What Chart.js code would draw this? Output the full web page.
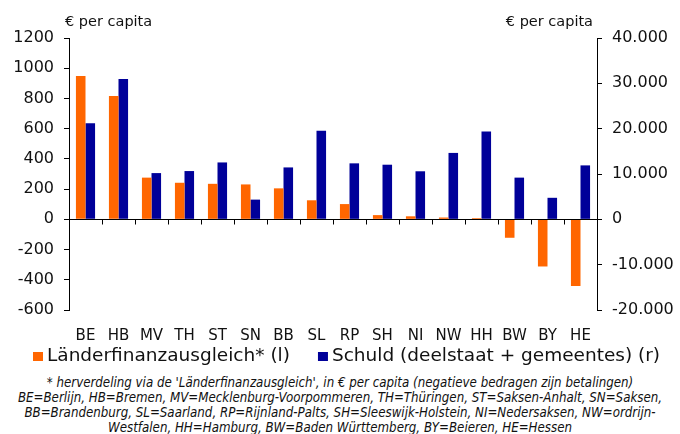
<!DOCTYPE html>
<html>
<head>
<meta charset="utf-8">
<script src="https://cdn.jsdelivr.net/npm/chart.js@4/dist/chart.umd.min.js"></script>
<style>
  body { margin: 0; background: #fff; }
  #wrap { position: relative; width: 680px; height: 372px; }
  #note {
    position: absolute; left: 0; top: 375px; width: 680px;
    text-align: center; font-family: "DejaVu Sans Condensed", "DejaVu Sans", sans-serif;
    font-style: italic; font-size: 13.2px; line-height: 15px; color: #111;
  }
</style>
</head>
<body>
<div id="wrap"><canvas id="chart"></canvas></div>
<div id="note">
  * herverdeling via de 'Länderfinanzausgleich', in € per capita (negatieve bedragen zijn betalingen)<br>
  BE=Berlijn, HB=Bremen, MV=Mecklenburg-Voorpommeren, TH=Thüringen, ST=Saksen-Anhalt, SN=Saksen,<br>
  BB=Brandenburg, SL=Saarland, RP=Rijnland-Palts, SH=Sleeswijk-Holstein, NI=Nedersaksen, NW=ordrijn-<br>
  Westfalen, HH=Hamburg, BW=Baden Württemberg, BY=Beieren, HE=Hessen
</div>
<script>
const states = ['BE', 'HB', 'MV', 'TH', 'ST', 'SN', 'BB', 'SL', 'RP', 'SH', 'NI', 'NW', 'HH', 'BW', 'BY', 'HE'];
// Länderfinanzausgleich, € per capita (left axis)
const lfa = [948, 817, 276, 242, 235, 231, 205, 126, 101, 28, 20, 12, 8, -122, -312, -441];
// debt state + municipalities, € per capita (right axis)
const debt = [21200, 30950, 10200, 10650, 12550, 4350, 11450, 19550, 12350, 12050, 10600, 14650, 19400, 9200, 4750, 11900];

const leftTicks = { min: -600, max: 1200, step: 200 };
const rightTicks = { min: -20000, max: 40000, step: 10000 };

const fmtThousands = v => String(v).replace(/\B(?=(\d{3})+(?!\d))/g, '.');

const FONT = '"DejaVu Sans", Verdana, sans-serif';

// axis captions, zero line, category tick marks and the legend
const extras = {
  id: 'extras',
  afterDraw(chart) {
    const ctx = chart.ctx;
    const area = chart.chartArea;
    const x = chart.scales.x;
    const y = chart.scales.y;
    ctx.save();
    ctx.fillStyle = '#111';
    ctx.font = '14.5px ' + FONT;
    ctx.textBaseline = 'alphabetic';
    ctx.textAlign = 'left';
    ctx.fillText('€ per capita', area.left - 4, 25.5);
    ctx.textAlign = 'right';
    ctx.fillText('€ per capita', area.right - 4, 25.5);

    const y0 = Math.round(y.getPixelForValue(0)) + 0.5;
    ctx.strokeStyle = '#000';
    ctx.lineWidth = 1;
    ctx.beginPath();
    ctx.moveTo(area.left, y0);
    ctx.lineTo(area.right, y0);
    const w = x.getPixelForValue(1) - x.getPixelForValue(0);
    for (let i = 1; i < states.length; i++) {
      const px = Math.round(x.getPixelForValue(i) - w / 2) + 0.5;
      ctx.moveTo(px, y0);
      ctx.lineTo(px, y0 + 5);
    }
    ctx.stroke();

    // legend
    const sets = chart.data.datasets;
    ctx.font = '18.5px ' + FONT;
    ctx.textAlign = 'left';
    ctx.textBaseline = 'middle';
    const box = 10, gap = 4, between = 28;
    const widths = sets.map(d => ctx.measureText(d.label).width);
    const total = widths.reduce((a, b) => a + b, 0) + sets.length * (box + gap) + between * (sets.length - 1);
    let lx = Math.round(347 - total / 2);
    const ly = 356;
    sets.forEach((d, i) => {
      ctx.fillStyle = d.backgroundColor;
      ctx.fillRect(lx, ly - 4, box, box - 1);
      ctx.fillStyle = '#111';
      ctx.fillText(d.label, lx + box + gap, ly);
      lx += box + gap + widths[i] + between;
    });
    ctx.restore();
  }
};

new Chart(document.getElementById('chart'), {
  type: 'bar',
  data: {
    labels: states,
    datasets: [
      {
        label: 'Länderfinanzausgleich* (l)',
        data: lfa,
        yAxisID: 'y',
        backgroundColor: '#FF6600',
        categoryPercentage: 0.58,
        barPercentage: 1.0
      },
      {
        label: 'Schuld (deelstaat + gemeentes) (r)',
        data: debt,
        yAxisID: 'y1',
        backgroundColor: '#000099',
        categoryPercentage: 0.58,
        barPercentage: 1.0
      }
    ]
  },
  options: {
    responsive: true,
    maintainAspectRatio: false,
    animation: false,
    layout: { padding: { top: 38, left: 0, right: 0, bottom: 26 } },
    scales: {
      x: {
        grid: { display: false },
        border: { display: false },
        ticks: { color: '#111', font: { family: FONT, size: 15 }, padding: 9, maxRotation: 0, autoSkip: false },
        afterFit: s => { s.height = 36; }
      },
      y: {
        position: 'left',
        min: leftTicks.min, max: leftTicks.max,
        ticks: { stepSize: leftTicks.step, color: '#111', font: { family: FONT, size: 16 }, padding: 10,
          callback: v => String(v) },
        grid: { drawOnChartArea: false, color: '#000', tickLength: 5 },
        border: { display: true, color: '#000' },
        afterFit: s => { s.width = 69; }
      },
      y1: {
        position: 'right',
        min: rightTicks.min, max: rightTicks.max,
        ticks: { stepSize: rightTicks.step, color: '#111', font: { family: FONT, size: 16 }, padding: 10,
          callback: v => fmtThousands(v) },
        grid: { drawOnChartArea: false, color: '#000', tickLength: 5 },
        border: { display: true, color: '#000' },
        afterFit: s => { s.width = 83; }
      }
    },
    plugins: {
      legend: { display: false },
      tooltip: { enabled: false }
    }
  },
  plugins: [extras]
});
</script>
</body>
</html>
